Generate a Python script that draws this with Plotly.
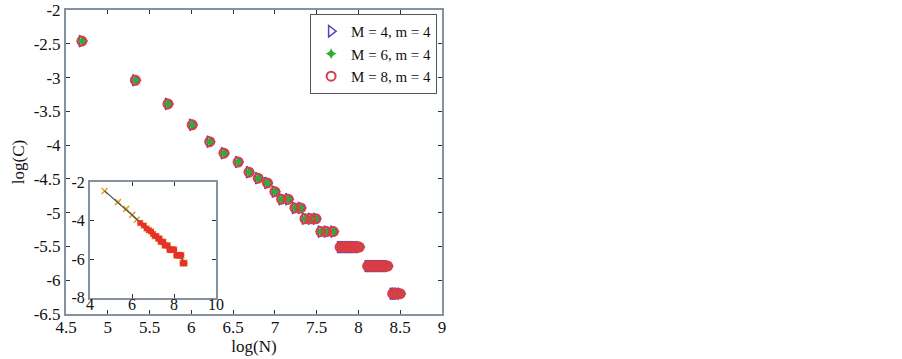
import numpy as np
import plotly.graph_objects as go

# ---- data ----
log_N = [4.69, 5.33, 5.72, 6.01, 6.22, 6.39, 6.56, 6.69, 6.80, 6.91, 7.00,
         7.08, 7.16, 7.24, 7.31, 7.36, 7.43, 7.49, 7.55, 7.62, 7.70,
         7.78, 7.80, 7.82, 7.84, 7.86, 7.88, 7.90, 7.92, 7.94, 7.96, 7.99, 8.01,
         8.11, 8.13, 8.15, 8.17, 8.19, 8.21, 8.23, 8.25, 8.27, 8.29, 8.31, 8.33, 8.35,
         8.41, 8.43, 8.45, 8.47, 8.50]
log_C = [-2.46, -3.04, -3.39, -3.70, -3.95, -4.12, -4.25, -4.40, -4.49, -4.56, -4.69,
         -4.80, -4.80, -4.93, -4.93, -5.09, -5.09, -5.09, -5.28, -5.28, -5.28,
         -5.51, -5.51, -5.51, -5.51, -5.51, -5.51, -5.51, -5.51, -5.51, -5.51, -5.51, -5.51,
         -5.79, -5.79, -5.79, -5.79, -5.79, -5.79, -5.79, -5.79, -5.79, -5.79, -5.79, -5.79, -5.79,
         -6.20, -6.20, -6.20, -6.20, -6.20]
series_names = ["M = 4, m = 4", "M = 6, m = 4", "M = 8, m = 4"]

x_ticks = [4.5, 5, 5.5, 6, 6.5, 7, 7.5, 8, 8.5, 9]
x_ticktext = ["4.5", "5", "5.5", "6", "6.5", "7", "7.5", "8", "8.5", "9"]
y_ticks = [-2, -2.5, -3, -3.5, -4, -4.5, -5, -5.5, -6, -6.5]
y_ticktext = ["-2", "-2.5", "-3", "-3.5", "-4", "-4.5", "-5", "-5.5", "-6", "-6.5"]
inset_x_ticks = [4, 6, 8, 10]
inset_y_ticks = [-2, -4, -6, -8]

FONT = "Liberation Serif"
fig = go.Figure()

# main series
fig.add_trace(go.Scatter(x=log_N, y=log_C, mode="markers", name=series_names[0],
                         marker=dict(symbol="triangle-right-open", size=10,
                                     color="#4a4ab8", line=dict(width=1.5))))
fig.add_trace(go.Scatter(x=log_N, y=log_C, mode="markers", name=series_names[1],
                         marker=dict(symbol="star-diamond", size=8, color="#2fae2f",
                                     line=dict(width=0))))
fig.add_trace(go.Scatter(x=log_N, y=log_C, mode="markers", name=series_names[2],
                         marker=dict(symbol="circle-open", size=9, color="#dc3c46",
                                     line=dict(width=2))))

# inset
xa = np.array(log_N)
ya = np.array(log_C)
k, b = np.polyfit(xa, ya, 1)
xl = np.array([xa.min(), xa.max()])
fig.add_trace(go.Scatter(x=log_N, y=log_C, mode="markers", xaxis="x2", yaxis="y2",
                         showlegend=False,
                         marker=dict(symbol="x-thin-open", size=6, color="#e0a020",
                                     line=dict(width=1.5))))
fig.add_trace(go.Scatter(x=xl, y=k * xl + b, mode="lines", xaxis="x2", yaxis="y2",
                         showlegend=False, line=dict(color="#3a4a5a", width=1.2)))
fig.add_trace(go.Scatter(x=log_N[5:], y=log_C[5:], mode="markers", xaxis="x2", yaxis="y2",
                         showlegend=False,
                         marker=dict(symbol="circle", size=6, color="#e8302a")))

axis_common = dict(showline=True, mirror="ticks", linecolor="#8792a0", linewidth=2,
                   ticks="inside", ticklen=4, tickcolor="#333", showgrid=False,
                   zeroline=False, automargin=False,
                   tickfont=dict(family=FONT, size=17, color="#111"))
inset_common = {**axis_common, "tickfont": dict(family=FONT, size=16, color="#111")}

fig.update_layout(
    width=902, height=359,
    margin=dict(l=66, r=460, t=10, b=45),
    paper_bgcolor="white", plot_bgcolor="white",
    font=dict(family=FONT, color="#111"),
    xaxis=dict(domain=[0, 1], range=[4.5, 9], tickvals=x_ticks, ticktext=x_ticktext,
               ticklabelstandoff=-3,
               title=dict(text="log(N)", font=dict(family=FONT, size=17), standoff=0),
               **axis_common),
    yaxis=dict(domain=[0, 1], range=[-6.5, -2], tickvals=y_ticks, ticktext=y_ticktext,
               title=dict(text="log(C)", font=dict(family=FONT, size=17), standoff=5),
               **axis_common),
    xaxis2=dict(domain=[0.064, 0.399], anchor="y2", range=[4, 10],
                tickvals=inset_x_ticks, ticktext=[str(v) for v in inset_x_ticks],
                ticklabelstandoff=-9, **inset_common),
    yaxis2=dict(domain=[0.053, 0.434], anchor="x2", range=[-8, -2],
                tickvals=inset_y_ticks, ticktext=["-2", "-4", "-6", "-8"],
                **inset_common),
    legend=dict(x=0.987, y=0.987, xanchor="right", yanchor="top",
                bgcolor="white", bordercolor="#555", borderwidth=1,
                font=dict(family=FONT, size=15, color="#111"),
                tracegroupgap=0, itemwidth=30),
)

fig.write_html("out.html", config={"displayModeBar": False},
               post_script="document.body.style.margin='0';")
